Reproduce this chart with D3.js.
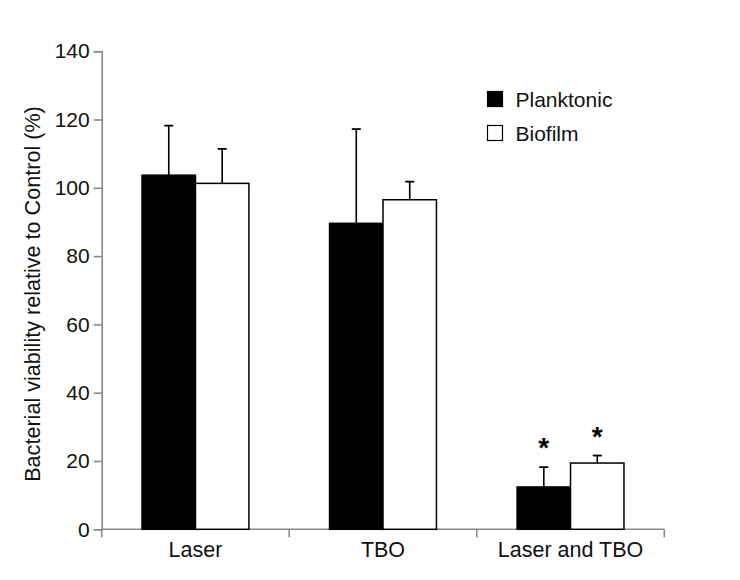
<!DOCTYPE html>
<html><head><meta charset="utf-8">
<script src="https://cdn.jsdelivr.net/npm/d3@7"></script>
<style>body{margin:0;background:#fff}svg{display:block}text{font-family:"Liberation Sans",Arial,sans-serif}</style>
</head><body><svg id="c" width="740" height="580"></svg>
<script>
const categories = ["Laser", "TBO", "Laser and TBO"];
const seriesNames = ["Planktonic", "Biofilm"];
const planktonic = [103.7, 89.6, 12.4];
const planktonicErr = [14.5, 27.6, 5.8];
const biofilm = [101.3, 96.5, 19.4];
const biofilmErr = [10.1, 5.3, 2.2];
const significant = [[false,false],[false,false],[true,true]];
const yTicks = [0,20,40,60,80,100,120,140];

const svg = d3.select("#c");
const x0 = 101.7, x1 = 664.3, yTop = 51.2, yBot = 529.3;
const x = d3.scaleBand().domain(categories).range([x0, x1]).paddingInner(0).paddingOuter(0);
const y = d3.scaleLinear().domain([0,140]).range([yBot, yTop]);
const barW = x.bandwidth() * 0.285;
const xs = d3.scaleBand().domain(seriesNames).range([0, 2*barW]);
const fills = {"Planktonic":"#000", "Biofilm":"#fff"};
const axisColor = "#8a8a8a";

// y axis
const ya = svg.append("g").attr("transform",`translate(${x0},0)`)
  .call(d3.axisLeft(y).tickValues(yTicks).tickSize(8).tickPadding(4));
ya.select(".domain").attr("stroke",axisColor).attr("stroke-width",1.6);
ya.selectAll(".tick line").attr("stroke",axisColor).attr("stroke-width",1.6);
ya.selectAll(".tick text").attr("font-size",21).attr("fill","#111").attr("font-family","Liberation Sans, Arial, sans-serif");

// x axis
const xg = svg.append("g");
xg.append("line").attr("x1",x0).attr("x2",x1).attr("y1",yBot).attr("y2",yBot)
  .attr("stroke",axisColor).attr("stroke-width",1.6);
const bounds = categories.map(c=>x(c)).concat([x1]);
xg.selectAll("line.tk").data(bounds).enter().append("line").attr("class","tk")
  .attr("x1",d=>d).attr("x2",d=>d).attr("y1",yBot).attr("y2",yBot+8)
  .attr("stroke",axisColor).attr("stroke-width",1.6);
xg.selectAll("text").data(categories).enter().append("text")
  .attr("x",d=>x(d)+x.bandwidth()/2).attr("y",557).attr("text-anchor","middle")
  .attr("font-size",21.5).attr("fill","#111").text(d=>d);

// bars
const data = [];
categories.forEach((c,i)=>{
  data.push({c, s:"Planktonic", v:planktonic[i], e:planktonicErr[i], sig:significant[i][0]});
  data.push({c, s:"Biofilm", v:biofilm[i], e:biofilmErr[i], sig:significant[i][1]});
});
const bx = d => x(d.c) + x.bandwidth()/2 - barW + xs(d.s);
const g = svg.append("g");
g.selectAll("line.err").data(data).enter().append("line").attr("class","err")
  .attr("x1",d=>bx(d)+barW/2).attr("x2",d=>bx(d)+barW/2)
  .attr("y1",d=>y(d.v)).attr("y2",d=>y(d.v+d.e)).attr("stroke","#000").attr("stroke-width",1.6);
g.selectAll("line.cap").data(data).enter().append("line").attr("class","cap")
  .attr("x1",d=>bx(d)+barW/2-4.5).attr("x2",d=>bx(d)+barW/2+4.5)
  .attr("y1",d=>y(d.v+d.e)).attr("y2",d=>y(d.v+d.e)).attr("stroke","#000").attr("stroke-width",1.8);
g.selectAll("rect").data(data).enter().append("rect")
  .attr("x",d=>bx(d)).attr("width",barW)
  .attr("y",d=>y(d.v)).attr("height",d=>y(0)-y(d.v))
  .attr("fill",d=>fills[d.s]).attr("stroke","#000").attr("stroke-width",1.5);
g.selectAll("text.sig").data(data.filter(d=>d.sig)).enter().append("text").attr("class","sig")
  .attr("x",d=>bx(d)+barW/2).attr("y",d=>y(d.v+d.e)-10)
  .attr("text-anchor","middle").attr("font-size",28).attr("font-weight","bold").text("*");

// legend
const lg = svg.append("g");
seriesNames.forEach((s,i)=>{
  lg.append("rect").attr("x",487.5).attr("y",91.5+i*34).attr("width",15).attr("height",15)
    .attr("fill",fills[s]).attr("stroke","#000").attr("stroke-width",1.2);
  lg.append("text").attr("x",515.5).attr("y",107+i*34).attr("font-size",21).attr("fill","#111").text(s);
});

// y title
svg.append("text").attr("transform",`translate(40,294) rotate(-90)`).attr("text-anchor","middle")
  .attr("font-size",21.6).attr("fill","#111").text("Bacterial viability relative to Control (%)");
</script></body></html>
